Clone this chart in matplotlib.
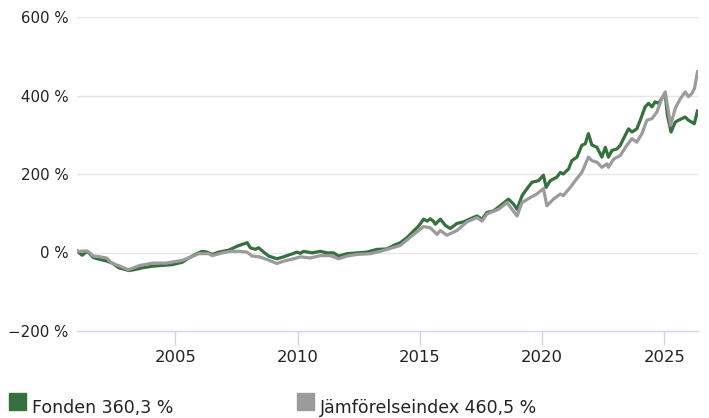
import matplotlib
matplotlib.use("Agg")
import matplotlib.pyplot as plt
from matplotlib.patches import Rectangle

# Fonden (green), year -> cumulative return in %
fund_years = [
    2001.00, 2001.19, 2001.40, 2001.65, 2001.94, 2002.21, 2002.42, 2002.69, 2002.88,
    2003.10, 2003.30, 2003.65, 2004.05, 2004.46, 2004.87, 2005.28, 2005.55, 2005.82,
    2006.10, 2006.30, 2006.51, 2006.78, 2007.19, 2007.53, 2007.94, 2008.07, 2008.28,
    2008.41, 2008.62, 2008.82, 2009.16, 2009.43, 2009.71, 2009.98, 2010.12, 2010.25,
    2010.60, 2010.93, 2011.21, 2011.48, 2011.68, 2012.03, 2012.44, 2012.84, 2013.25,
    2013.66, 2013.93, 2014.21, 2014.48, 2014.75, 2014.95, 2015.16, 2015.30, 2015.43,
    2015.55, 2015.64, 2015.84, 2016.05, 2016.25, 2016.52, 2016.79, 2017.07, 2017.34,
    2017.55, 2017.75, 2018.02, 2018.29, 2018.63, 2018.84, 2018.98, 2019.18, 2019.32,
    2019.59, 2019.86, 2020.06, 2020.17, 2020.34, 2020.61, 2020.75, 2020.87, 2021.09,
    2021.22, 2021.43, 2021.63, 2021.77, 2021.90, 2022.04, 2022.25, 2022.45, 2022.59,
    2022.72, 2022.86, 2023.07, 2023.20, 2023.40, 2023.54, 2023.68, 2023.88, 2024.02,
    2024.22, 2024.36, 2024.50, 2024.63, 2024.77, 2024.90, 2025.04, 2025.13, 2025.28,
    2025.45, 2025.58, 2025.72, 2025.86, 2025.99, 2026.13, 2026.23, 2026.36,
]
fund_values = [
    3, -7, 3, -13, -18, -22, -27, -39, -42,
    -46, -44, -39, -35, -33, -31, -25, -14, -5,
    3, 1, -5, 1, 6, 16, 25, 12, 8,
    12, 1, -9, -16, -11, -5, 1, -2, 3,
    -1, 3, -1, -1, -9, -3, -1, 1, 8,
    9, 18, 25, 38, 55, 67, 85, 80, 86,
    80, 72, 85, 69, 61, 74, 78, 86, 93,
    85, 102, 106, 119, 136, 123, 110, 144, 157,
    179, 183, 197, 166, 183, 192, 204, 200, 213,
    234, 243, 273, 277, 303, 274, 268, 243, 268,
    243, 260, 264, 273, 298, 315, 307, 315, 337,
    371, 380, 371, 384, 380, 392, 405, 350, 307,
    332, 337, 341, 345, 337, 332, 328, 360.3,
]

# Jämförelseindex (gray)
index_years = [
    2001.00, 2001.40, 2001.65, 2001.92, 2002.19, 2002.40, 2002.75, 2003.08, 2003.55,
    2004.09, 2004.63, 2005.28, 2005.55, 2005.96, 2006.37, 2006.51, 2006.92, 2007.26,
    2007.66, 2007.94, 2008.14, 2008.44, 2008.76, 2009.16, 2009.43, 2009.84, 2010.12,
    2010.53, 2010.93, 2011.34, 2011.68, 2012.03, 2012.44, 2012.98, 2013.39, 2013.72,
    2014.21, 2014.75, 2015.16, 2015.43, 2015.71, 2015.84, 2016.11, 2016.52, 2016.93,
    2017.34, 2017.55, 2017.75, 2018.22, 2018.57, 2018.98, 2019.18, 2019.52, 2019.79,
    2020.06, 2020.20, 2020.47, 2020.75, 2020.87, 2021.16, 2021.36, 2021.63, 2021.90,
    2022.04, 2022.25, 2022.45, 2022.66, 2022.72, 2022.93, 2023.20, 2023.47, 2023.68,
    2023.88, 2024.09, 2024.29, 2024.50, 2024.70, 2024.90, 2025.04, 2025.13, 2025.26,
    2025.45, 2025.66, 2025.86, 2025.99, 2026.13, 2026.24, 2026.36,
]
index_values = [
    3, 4, -9, -11, -14, -27, -35, -44, -33,
    -27, -27, -20, -14, -3, -3, -8, -1, 3,
    3, 1, -9, -11, -18, -28, -22, -16, -11,
    -14, -8, -8, -16, -9, -5, -3, 3, 9,
    18, 46, 66, 63, 46, 56, 44, 56, 78,
    89, 80, 98, 110, 127, 93, 127, 140, 149,
    163, 119, 136, 149, 145, 166, 183, 204, 243,
    234, 230, 217, 226, 217, 238, 247, 273, 290,
    281, 303, 337, 341, 358, 392, 409, 375, 324,
    367, 392, 409, 397, 405, 418, 460.5,
]

y_ticks = [-200, 0, 200, 400, 600]
x_ticks = [2005, 2010, 2015, 2020, 2025]

fund_label = f"Fonden {fund_values[-1]:.1f} %".replace(".", ",")
index_label = f"Jämförelseindex {index_values[-1]:.1f} %".replace(".", ",")

green = "#35703d"
gray = "#9b9b9b"
text_col = "#222222"

fig = plt.figure(figsize=(7.09, 4.18), dpi=100)
ax = fig.add_axes([77 / 709, 1 - 331 / 418, 620.7 / 709, 314 / 418])

ax.plot(fund_years, fund_values, color=green, lw=2.3, solid_joinstyle="round", zorder=3)
ax.plot(index_years, index_values, color=gray, lw=2.3, solid_joinstyle="round", zorder=4)

ax.set_xlim(2000.98, 2026.37)
ax.set_ylim(-200, 600)

# horizontal gridlines (the -200 line is the axis itself)
for v in y_ticks[1:]:
    ax.axhline(v, color="#e6e6e6", lw=1, zorder=1)

for s in ["top", "right", "left"]:
    ax.spines[s].set_visible(False)
ax.spines["bottom"].set_color("#ccd6eb")
ax.spines["bottom"].set_linewidth(1)

ax.set_yticks(y_ticks)
ax.set_yticklabels([f"{v} %".replace("-", "\u2212") for v in y_ticks])
ax.set_xticks(x_ticks)
ax.set_xticklabels([str(y) for y in x_ticks])
ax.tick_params(axis="y", length=0, pad=6, labelsize=10.8, labelcolor=text_col)
ax.tick_params(axis="x", length=10, width=1, color="#ccd6eb", pad=4,
               labelsize=11.8, labelcolor=text_col)

# legend at the bottom
fig.patches.append(Rectangle((9 / 709, 1 - 410 / 418), 17 / 709, 17 / 418,
                             transform=fig.transFigure, color=green))
fig.text(32 / 709, 1 - 413 / 418, fund_label, fontsize=12.5, color=text_col,
         va="baseline", ha="left")
fig.patches.append(Rectangle((297 / 709, 1 - 410 / 418), 17 / 709, 17 / 418,
                             transform=fig.transFigure, color=gray))
fig.text(320 / 709, 1 - 413 / 418, index_label, fontsize=12.5, color=text_col,
         va="baseline", ha="left")

fig.savefig("out.png", dpi=100)
